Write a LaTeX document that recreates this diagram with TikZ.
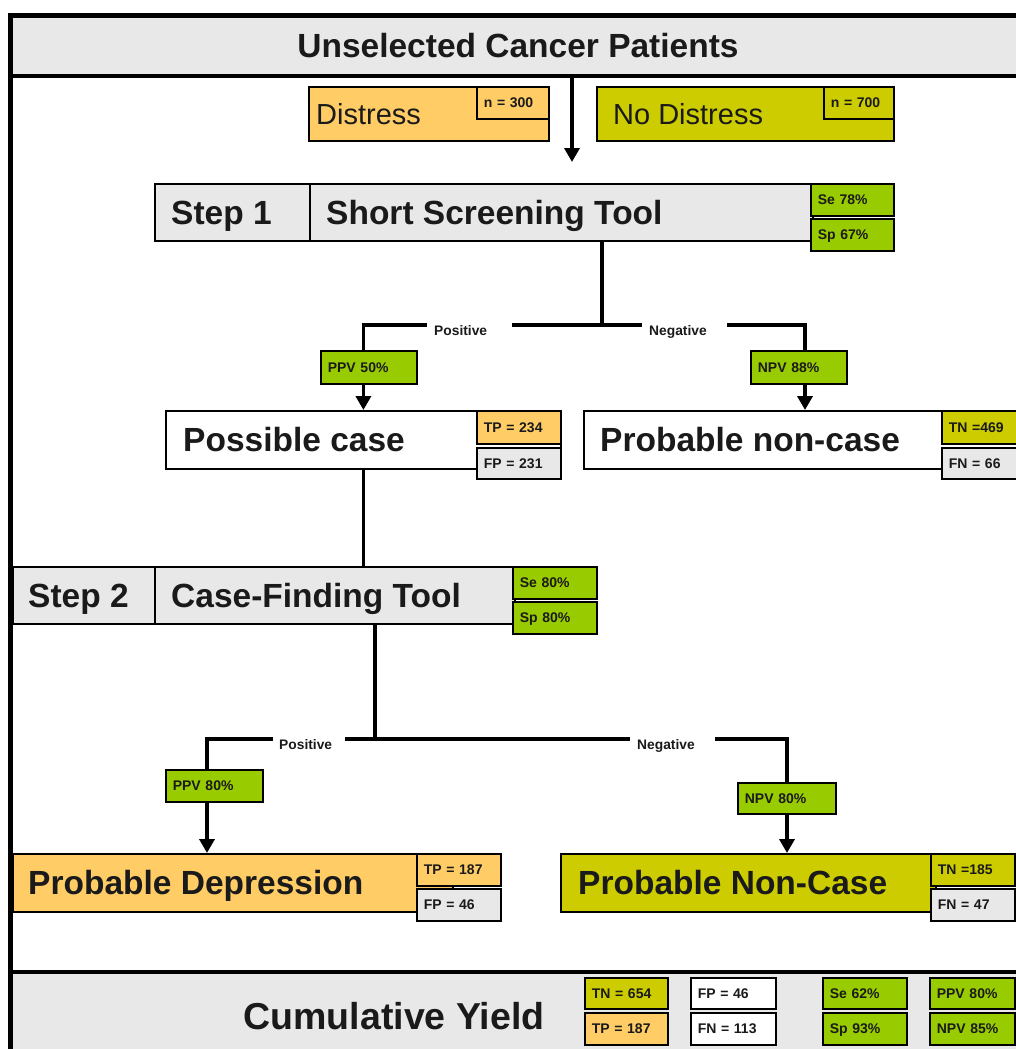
\documentclass[tikz,border=0pt]{standalone}
\usepackage{fontspec}
\setmainfont{Liberation Sans}
\usetikzlibrary{arrows.meta}
\definecolor{cgray}{HTML}{E8E8E8}
\definecolor{corange}{HTML}{FFCC66}
\definecolor{colive}{HTML}{CCCC00}
\definecolor{cgreen}{HTML}{99CC00}
\definecolor{ctext}{HTML}{1A1A1A}
\begin{document}
\begin{tikzpicture}[x=1pt,y=-1pt,
  bigfont/.style={font=\bfseries\fontsize{33.5}{38}\selectfont, text height=24pt, text depth=0pt},
  regfont/.style={font=\fontsize{29}{34}\selectfont, text height=20.8pt, text depth=0pt},
  box/.style={draw=black, line width=1.8pt, anchor=north west, inner sep=0pt},
  lab/.style={anchor=west, inner sep=0pt, text=ctext},
  small/.style={draw=black, line width=1.6pt, anchor=north west, inner xsep=7pt, inner ysep=0pt, align=left,
     font=\bfseries\fontsize{14}{16}\selectfont, text height=10pt, text depth=0pt, text=ctext},
  sb/.style 2 args={small, text width=#1, minimum height=#2},
  conn/.style={line width=3.6pt},
  arr/.style={conn, -{Triangle[width=15pt,length=14pt]}},
  blab/.style={anchor=west, inner xsep=7pt, inner ysep=0pt, text height=21pt, text depth=0pt,
     font=\bfseries\fontsize{13.8}{15}\selectfont, text=ctext, text width=71pt, align=left}
]
\path[use as bounding box, clip] (0,0) rectangle (1016,1049);

% header
\node[fill=cgray, minimum width=1020pt, minimum height=60pt, inner sep=0pt, bigfont, text=ctext] (hdr) at (518,46) {Unselected Cancer Patients};

% distress boxes
\node[box, fill=corange, minimum width=240pt, minimum height=54pt] (dist) at (308,86) {};
\node[lab, regfont] (distT) at ([xshift=8pt]dist.west) {Distress};
\node[sb={58pt}{32pt}, fill=corange] (n300) at (476,86) {n = 300};
\node[box, fill=colive, minimum width=297pt, minimum height=54pt] (nodist) at (596,86) {};
\node[lab, regfont] (nodistT) at ([xshift=17pt]nodist.west) {No Distress};
\node[sb={56pt}{32pt}, fill=colive] (n700) at (823,86) {n = 700};
\coordinate (a1end) at (572,162);
\draw[arr] ([xshift=54pt]hdr.south) -- (a1end);

% step 1
\node[box, fill=cgray, minimum width=155pt, minimum height=57pt] (s1) at (154,183) {};
\node[lab, bigfont] (s1T) at ([xshift=17pt]s1.west) {Step 1};
\node[box, fill=cgray, minimum width=503pt, minimum height=57pt] (s1tool) at (309,183) {};
\node[lab, bigfont] (s1toolT) at ([xshift=17pt]s1tool.west) {Short Screening Tool};
\node[sb={69pt}{32pt}, fill=cgreen] (se1) at (810,183) {Se 78\%};
\node[sb={69pt}{32pt}, fill=cgreen] (sp1) at (810,218) {Sp 67\%};

% results step 1
\node[box, fill=white, minimum width=395pt, minimum height=58pt] (poss) at (165,410) {};
\node[lab, bigfont] (possT) at ([xshift=18pt]poss.west) {Possible case};
\node[sb={70pt}{33pt}, fill=corange] (tp1) at (476,410) {TP = 234};
\node[sb={70pt}{31pt}, fill=cgray] (fp1) at (476,447) {FP = 231};
\node[box, fill=white, minimum width=450pt, minimum height=58pt] (pnc) at (583,410) {};
\node[lab, bigfont] (pncT) at ([xshift=17pt]pnc.west) {Probable non-case};
\node[sb={70pt}{33pt}, fill=colive] (tn1) at (941,410) {TN =469};
\node[sb={70pt}{31pt}, fill=cgray] (fn1) at (941,447) {FN = 66};

% branch 1
\node[blab] (pos1) at (427,325) {Positive};
\node[blab] (neg1) at (642,325) {Negative};
\node[sb={82pt}{33pt}, fill=cgreen] (ppv1) at (320,350) {PPV 50\%};
\node[sb={82pt}{33pt}, fill=cgreen] (npv1) at (750,350) {NPV 88\%};
\coordinate (b1) at (602,325);
\coordinate (r1) at (805,0);
\draw[conn] (b1 |- s1tool.south) -- (b1);
\draw[conn] (pos1.east) -- (neg1.west);
\draw[conn] (pos1.west) -| (ppv1.north -| poss.north);
\draw[arr] (ppv1.south -| poss.north) -- (poss.north);
\draw[conn] (neg1.east) -| (npv1.north -| r1);
\draw[arr] (npv1.south -| r1) -- (pnc.north -| r1);

% step 2
\node[box, fill=cgray, minimum width=142pt, minimum height=57pt] (s2) at (12,566) {};
\node[lab, bigfont] (s2T) at ([xshift=16pt]s2.west) {Step 2};
\node[box, fill=cgray, minimum width=360pt, minimum height=57pt] (s2tool) at (154,566) {};
\node[lab, bigfont] (s2toolT) at ([xshift=17pt]s2tool.west) {Case-Finding Tool};
\node[sb={70pt}{32pt}, fill=cgreen] (se2) at (512,566) {Se 80\%};
\node[sb={70pt}{32pt}, fill=cgreen] (sp2) at (512,601) {Sp 80\%};
\draw[conn] (poss.south) -- (poss.south |- s2tool.north);

% results step 2
\node[box, fill=corange, minimum width=440pt, minimum height=58pt] (pd) at (12,853) {};
\node[lab, bigfont] (pdT) at ([xshift=16pt]pd.west) {Probable Depression};
\node[sb={70pt}{32pt}, fill=corange] (tp2) at (416,853) {TP = 187};
\node[sb={70pt}{32pt}, fill=cgray] (fp2) at (416,888) {FP = 46};
\node[box, fill=colive, minimum width=375pt, minimum height=58pt] (pnc2) at (560,853) {};
\node[lab, bigfont] (pnc2T) at ([xshift=18pt]pnc2.west) {Probable Non-Case};
\node[sb={70pt}{32pt}, fill=colive] (tn2) at (930,853) {TN =185};
\node[sb={70pt}{32pt}, fill=cgray] (fn2) at (930,888) {FN = 47};

% branch 2
\node[blab, text width=60pt, inner xsep=6pt] (pos2) at (273,739) {Positive};
\node[blab] (neg2) at (630,739) {Negative};
\node[sb={83pt}{32pt}, fill=cgreen] (ppv2) at (165,769) {PPV 80\%};
\node[sb={84pt}{31pt}, fill=cgreen] (npv2) at (737,782) {NPV 80\%};
\coordinate (b2) at (375,739);
\coordinate (l2) at (207,0);
\coordinate (r2) at (787,0);
\draw[conn] (b2 |- s2tool.south) -- (b2);
\draw[conn] (pos2.east) -- (neg2.west);
\draw[conn] (pos2.west) -| (ppv2.north -| l2);
\draw[arr] (ppv2.south -| l2) -- (pd.north -| l2);
\draw[conn] (neg2.east) -| (npv2.north -| r2);
\draw[arr] (npv2.south -| r2) -- (pnc2.north -| r2);

% cumulative yield band
\node[fill=cgray, inner sep=0pt, minimum width=1020pt, minimum height=80pt, anchor=north west] (band) at (12,974) {};
\node[font=\bfseries\fontsize{37.5}{42}\selectfont, text height=27pt, text depth=0pt, inner sep=0pt, text=ctext] (cy) at (394,1016) {Cumulative Yield};
\node[sb={69pt}{31pt}, fill=colive] (tn3) at (584,977) {TN = 654};
\node[sb={69pt}{32pt}, fill=corange] (tp3) at (584,1012) {TP = 187};
\node[sb={71pt}{31pt}, fill=white] (fp3) at (690,977) {FP = 46};
\node[sb={71pt}{32pt}, fill=white] (fn3) at (690,1012) {FN = 113};
\node[sb={70pt}{31pt}, fill=cgreen] (se3) at (822,977) {Se 62\%};
\node[sb={70pt}{32pt}, fill=cgreen] (sp3) at (822,1012) {Sp 93\%};
\node[sb={71pt}{31pt}, fill=cgreen] (ppv3) at (929,977) {PPV 80\%};
\node[sb={71pt}{32pt}, fill=cgreen] (npv3) at (929,1012) {NPV 85\%};

% frame
\coordinate (fr1) at (10.5,1060);
\coordinate (fr2) at (10.5,15.5);
\coordinate (fr3) at (1030,15.5);
\draw[line width=5pt] (fr1) -- (fr2) -- (fr3);
\draw[line width=4pt] (hdr.south west) -- (hdr.south east);
\draw[line width=4pt] ([yshift=2pt]band.north west -| fr1) -- ([yshift=2pt]band.north east);
\end{tikzpicture}
\end{document}
